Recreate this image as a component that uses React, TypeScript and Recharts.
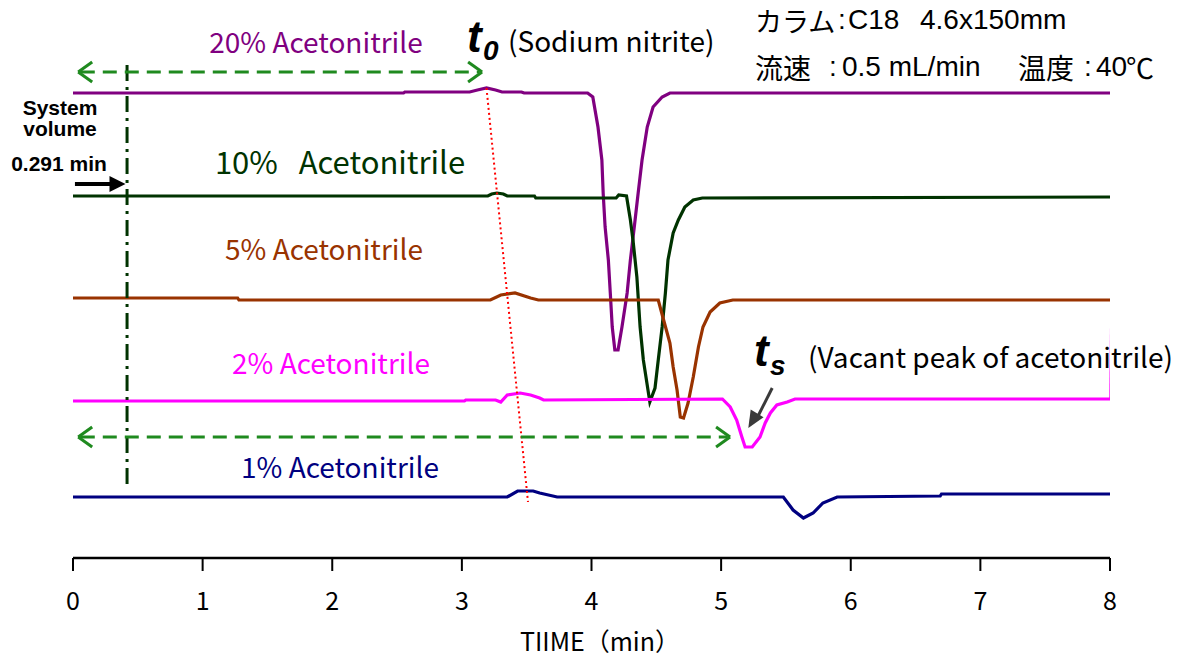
import React from "react";
import { LineChart, Line, XAxis, YAxis, ReferenceLine, ReferenceDot } from "recharts";

// time (min) vs detector signal (arbitrary units, traces offset vertically)
const timeTicks = [0, 1, 2, 3, 4, 5, 6, 7, 8];

const acn20: [number, number][] = [
  [0, 465], [2.55, 465], [2.56, 466], [3.06, 466], [3.12, 468], [3.19, 470], [3.26, 468], [3.31, 466],
  [3.46, 466], [3.48, 465], [3.97, 465], [4.01, 461], [4.05, 431], [4.08, 398], [4.09, 365], [4.105, 331],
  [4.13, 298], [4.145, 265], [4.16, 231], [4.18, 208], [4.205, 208], [4.235, 231], [4.275, 265], [4.3, 298],
  [4.33, 331], [4.36, 365], [4.39, 398], [4.43, 431], [4.475, 451], [4.545, 461], [4.605, 465], [8, 465],
];
const acn10: [number, number][] = [
  [0, 362], [3.2, 362], [3.23, 364], [3.27, 365], [3.32, 364], [3.35, 362], [3.56, 362], [3.57, 360],
  [4.19, 360], [4.21, 363], [4.27, 362], [4.3, 338], [4.32, 318], [4.35, 281], [4.375, 231], [4.4, 198],
  [4.45, 156], [4.49, 170], [4.515, 198], [4.545, 231], [4.57, 265], [4.59, 298], [4.63, 325], [4.67, 338],
  [4.72, 351], [4.785, 358], [4.855, 360], [8, 361],
];
const acn5: [number, number][] = [
  [0, 260], [1.27, 260], [1.28, 258], [3.22, 258], [3.3, 263], [3.41, 265], [3.53, 260], [3.59, 258],
  [4.515, 258], [4.55, 241], [4.605, 215], [4.63, 191], [4.66, 168], [4.685, 141], [4.71, 140], [4.745, 155],
  [4.785, 181], [4.825, 211], [4.86, 231], [4.915, 246], [4.99, 255], [5.09, 258], [8, 258],
];
const acn2: [number, number][] = [
  [0, 157], [3.02, 157], [3.03, 158], [3.26, 158], [3.3, 156], [3.35, 163], [3.45, 165], [3.53, 163],
  [3.6, 160], [3.63, 158], [5.01, 159], [5.07, 151], [5.12, 138], [5.16, 121], [5.185, 111], [5.24, 111],
  [5.3, 121], [5.34, 135], [5.38, 145], [5.43, 153], [5.51, 156], [5.57, 159], [8, 159],
];
const acn2End: [number, number][] = [[8, 159], [8.01, 286]];
const acn1: [number, number][] = [
  [0, 61], [3.35, 61], [3.43, 67], [3.55, 67], [3.6, 65], [3.735, 61], [5.48, 61], [5.555, 48],
  [5.635, 40], [5.71, 45], [5.785, 55], [5.895, 61], [6.69, 62], [6.7, 64], [8, 64],
];

// annotation values (time, signal)
const t0Line = [{ x: 3.19, y: 470 }, { x: 3.51, y: 56 }];
const t0Span = { from: 0.04, to: 3.156, y: 486 };
const tsSpan = { from: 0.04, to: 5.069, y: 121 };
const systemVolumeMark = { x: 0.417, y1: 493, y2: 68 };

const toPts = (a: [number, number][]) => a.map(([t, v]) => ({ t, v }));

const FONT_JP = "'Noto Sans CJK JP', 'Noto Sans', sans-serif";
const FONT_B = "'Liberation Sans', Arial, sans-serif";
const GREEN = "#1f8a1f";

const series = [
  { name: "20% Acetonitrile", data: acn20, color: "#800080" },
  { name: "10% Acetonitrile", data: acn10, color: "#003300" },
  { name: "5% Acetonitrile", data: acn5, color: "#993300" },
  { name: "2% Acetonitrile", data: acn2, color: "#ff00ff" },
  { name: "1% Acetonitrile", data: acn1, color: "#000080" },
];

const chevronDx = 0.108;
const chevronDy = 10;

const blackHead = (p: any) => (
  <polygon points={`${p.cx},${p.cy} ${p.cx - 16},${p.cy - 8} ${p.cx - 16},${p.cy + 8}`} fill="#000" />
);
const grayHead = (p: any) => {
  const dx = -0.515, dy = 0.858, L = 17, W = 7.5;
  const bx = p.cx - L * dx, by = p.cy - L * dy;
  const px = 0.858, py = 0.515;
  return (
    <polygon
      points={`${p.cx},${p.cy} ${bx + W * px},${by + W * py} ${bx - W * px},${by - W * py}`}
      fill="#3a3a3a"
    />
  );
};

export default function App() {
  const arrows = [t0Span, tsSpan];
  return (
    <div style={{ position: "absolute", left: 0, top: 0, width: 1187, height: 662, background: "#fff" }}>
      <LineChart width={1187} height={662} margin={{ top: 18, right: 77, bottom: 44, left: 73 }}>
        <XAxis
          type="number"
          dataKey="t"
          domain={[0, 8]}
          ticks={timeTicks}
          allowDataOverflow
          height={60}
          tickSize={13}
          tickMargin={21}
          axisLine={{ stroke: "#000", strokeWidth: 2.5 }}
          tickLine={{ stroke: "#000", strokeWidth: 2 }}
          tick={{ fontSize: 25, fill: "#000", fontFamily: FONT_JP }}
        />
        <YAxis type="number" domain={[0, 540]} hide allowDataOverflow />
        {series.map((s) => (
          <Line
            key={s.name}
            data={toPts(s.data)}
            dataKey="v"
            type="linear"
            stroke={s.color}
            strokeWidth={3.2}
            dot={false}
            isAnimationActive={false}
          />
        ))}
        <Line
          data={toPts(acn2End)}
          dataKey="v"
          type="linear"
          stroke="#ff00ff"
          strokeWidth={1.5}
          dot={false}
          isAnimationActive={false}
        />
        <ReferenceLine
          segment={t0Line}
          stroke="#ff0000"
          strokeWidth={2}
          strokeDasharray="2 3"
          ifOverflow="visible"
        />
        <ReferenceLine
          segment={[{ x: systemVolumeMark.x, y: systemVolumeMark.y1 }, { x: systemVolumeMark.x, y: systemVolumeMark.y2 }]}
          stroke="#003300"
          strokeWidth={3}
          strokeDasharray="16 6 3 6"
          ifOverflow="visible"
        />
        {arrows.map((a, i) => (
          <ReferenceLine
            key={"span" + i}
            segment={[{ x: a.from + 0.02, y: a.y }, { x: a.to - 0.02, y: a.y }]}
            stroke={GREEN}
            strokeWidth={3}
            strokeDasharray="14 8"
            ifOverflow="visible"
          />
        ))}
        {arrows.flatMap((a, i) => [
          <ReferenceLine key={"l1" + i} segment={[{ x: a.from, y: a.y }, { x: a.from + chevronDx, y: a.y + chevronDy }]} stroke={GREEN} strokeWidth={3} ifOverflow="visible" />,
          <ReferenceLine key={"l2" + i} segment={[{ x: a.from, y: a.y }, { x: a.from + chevronDx, y: a.y - chevronDy }]} stroke={GREEN} strokeWidth={3} ifOverflow="visible" />,
          <ReferenceLine key={"r1" + i} segment={[{ x: a.to, y: a.y }, { x: a.to - chevronDx, y: a.y + chevronDy }]} stroke={GREEN} strokeWidth={3} ifOverflow="visible" />,
          <ReferenceLine key={"r2" + i} segment={[{ x: a.to, y: a.y }, { x: a.to - chevronDx, y: a.y - chevronDy }]} stroke={GREEN} strokeWidth={3} ifOverflow="visible" />,
        ])}
        <ReferenceLine segment={[{ x: 0.015, y: 374 }, { x: 0.3, y: 374 }]} stroke="#000" strokeWidth={4} ifOverflow="visible" />
        <ReferenceDot x={0.405} y={374} r={1} shape={blackHead} ifOverflow="visible" />
        <ReferenceLine segment={[{ x: 5.394, y: 170 }, { x: 5.285, y: 142 }]} stroke="#3a3a3a" strokeWidth={3} ifOverflow="visible" />
        <ReferenceDot x={5.21} y={130} r={1} shape={grayHead} ifOverflow="visible" />
      </LineChart>
      <svg
        width={1187}
        height={662}
        style={{ position: "absolute", left: 0, top: 0, pointerEvents: "none" }}
      >
        <g fontFamily={FONT_JP} fontSize={28} dominantBaseline="central">
          <text x={316} y={41} textAnchor="middle" fill="#800080">20% Acetonitrile</text>
          <text x={340} y={160} textAnchor="middle" fill="#003300" fontSize={31}>{"10%\u00a0\u00a0\u00a0Acetonitrile"}</text>
          <text x={324} y={248} textAnchor="middle" fill="#993300">5% Acetonitrile</text>
          <text x={331} y={362} textAnchor="middle" fill="#ff00ff">2% Acetonitrile</text>
          <text x={340} y={466} textAnchor="middle" fill="#000080">1% Acetonitrile</text>
          <text x={508} y={40} fill="#000">(Sodium nitrite)</text>
          <text x={808} y={356} fill="#000">(Vacant peak of acetonitrile)</text>
          <text x={600} y={640} textAnchor="middle" fill="#000" fontSize={25}>TIIME（min）</text>
        </g>
        <g fill="#000" dominantBaseline="central">
          <g fontFamily={FONT_JP} fontSize={28}>
            <text x={755} y={20} fontSize={27}>カラム</text>
            <text x={755} y={67}>流速</text>
            <text x={1018} y={67}>温度</text>
            <text x={1126} y={67}>℃</text>
          </g>
          <g fontFamily={FONT_B} fontSize={28}>
            <text x={838} y={19}>:</text>
            <text x={848} y={19}>C18</text>
            <text x={920} y={19}>4.6x150mm</text>
            <text x={829} y={66}>:</text>
            <text x={842} y={66}>0.5 mL/min</text>
            <text x={1084} y={66}>:</text>
            <text x={1096} y={66}>40</text>
          </g>
        </g>
        <g fontFamily={FONT_B} fontWeight="bold" fontStyle="italic" fill="#000">
          <text x={467} y={52} fontSize={44}>t</text>
          <text x={483} y={60} fontSize={28}>0</text>
          <text x={754} y={366} fontSize={44}>t</text>
          <text x={770} y={375} fontSize={28}>s</text>
        </g>
        <g fontFamily={FONT_B} fontWeight="bold" fontSize={21} fill="#000" textAnchor="middle" dominantBaseline="central">
          <text x={60} y={107}>System</text>
          <text x={60} y={128}>volume</text>
          <text x={59} y={163}>0.291 min</text>
        </g>
      </svg>
    </div>
  );
}
